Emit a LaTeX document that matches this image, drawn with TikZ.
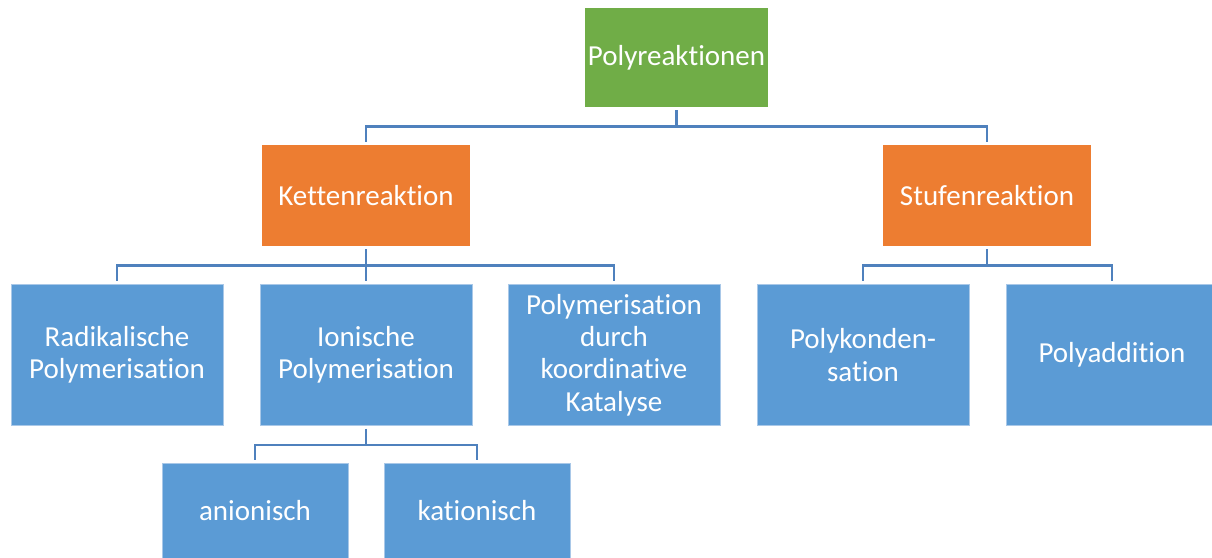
\documentclass[tikz,border=0pt]{standalone}
\usepackage{fontspec}
\setmainfont{Carlito}[Ligatures=NoCommon]
\definecolor{pgreen}{HTML}{70AD47}
\definecolor{porange}{HTML}{ED7D31}
\definecolor{pblue}{HTML}{5B9BD5}
\definecolor{pedge}{HTML}{A9C8E8}
\definecolor{pline}{HTML}{4F81BD}
\begin{document}
\begin{tikzpicture}[x=1pt,y=-1pt,
  box/.style={rectangle,inner sep=0pt,align=center,text=white,
    font=\fontsize{29}{32.3}\selectfont},
  bluebox/.style={box,fill=pblue,draw=pedge,line width=0.8pt},
  conn/.style={draw=pline,line width=2.6pt}]
\useasboundingbox (0,0) rectangle (1212,557);
\node[box,fill=pgreen,minimum width=183pt,minimum height=99pt] (top) at (676.5,57.5) {Polyreaktionen};
\node[box,fill=porange,minimum width=208pt,minimum height=101pt] (kette) at (366,195.5) {Kettenreaktion};
\node[box,fill=porange,minimum width=208pt,minimum height=101pt] (stufe) at (987,195.5) {Stufenreaktion};
\node[bluebox,minimum width=212pt,minimum height=141pt] (radi) at (117,355) {Radikalische\\Polymerisation};
\node[bluebox,minimum width=212pt,minimum height=141pt] (ioni) at (366,355) {Ionische\\Polymerisation};
\node[bluebox,minimum width=212pt,minimum height=141pt] (koord) at (614,355) {Polymerisation\\durch\\koordinative\\Katalyse};
\node[bluebox,minimum width=212pt,minimum height=141pt] (konden) at (863,355) {Polykonden-\\sation};
\node[bluebox,minimum width=212pt,minimum height=141pt] (addi) at (1112,355) {Polyaddition};
\node[bluebox,minimum width=186pt,minimum height=96pt] (anion) at (255,511) {anionisch};
\node[bluebox,minimum width=186pt,minimum height=96pt] (kation) at (477,511) {kationisch};
\draw[conn] ([yshift=-3pt]top.south) -- ++(0,16) -| ([yshift=3pt]kette.north);
\draw[conn] ([yshift=-3pt]top.south) -- ++(0,16) -| ([yshift=3pt]stufe.north);
\draw[conn] ([yshift=-3pt]kette.south) -- ++(0,16) -| ([yshift=3pt]radi.north);
\draw[conn] ([yshift=-3pt]kette.south) -- ++(0,16) -| ([yshift=3pt]ioni.north);
\draw[conn] ([yshift=-3pt]kette.south) -- ++(0,16) -| ([yshift=3pt]koord.north);
\draw[conn] ([yshift=-3pt]stufe.south) -- ++(0,16) -| ([yshift=3pt]konden.north);
\draw[conn] ([yshift=-3pt]stufe.south) -- ++(0,16) -| ([yshift=3pt]addi.north);
\draw[conn] ([yshift=-3pt]ioni.south) -- ++(0,16) -| ([yshift=3pt]anion.north);
\draw[conn] ([yshift=-3pt]ioni.south) -- ++(0,16) -| ([yshift=3pt]kation.north);
\end{tikzpicture}
\end{document}
